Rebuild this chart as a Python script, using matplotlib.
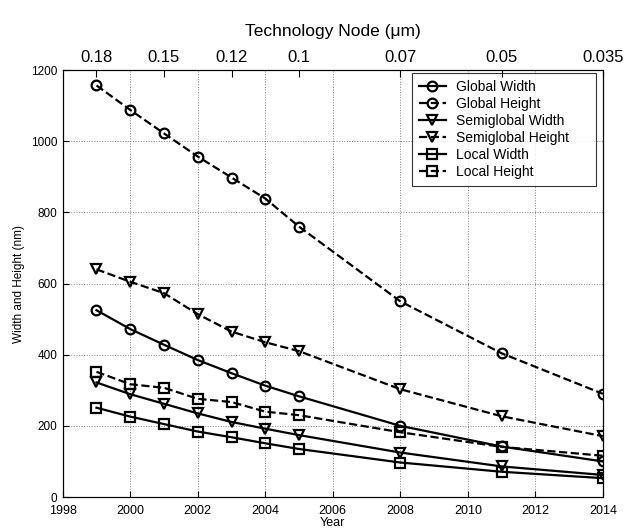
import matplotlib
matplotlib.use("Agg")
import matplotlib.pyplot as plt

plt.rcParams['font.family'] = ['Liberation Sans', 'DejaVu Sans']

# data
years = [1999, 2000, 2001, 2002, 2003, 2004, 2005, 2008, 2011, 2014]
global_width = [525, 472, 428, 385, 348, 313, 283, 200, 142, 100]
global_height = [1157, 1088, 1022, 957, 898, 839, 760, 550, 404, 290]
semi_width = [322, 289, 262, 235, 211, 192, 174, 125, 86, 62]
semi_height = [640, 605, 573, 514, 465, 435, 410, 303, 227, 171]
local_width = [251, 226, 205, 184, 168, 151, 135, 97, 71, 53]
local_height = [352, 317, 307, 276, 267, 240, 230, 182, 141, 116]

node_years = [1999, 2001, 2003, 2005, 2008, 2011, 2014]
node_labels = ['0.18', '0.15', '0.12', '0.1', '0.07', '0.05', '0.035']

fig = plt.figure(figsize=(6.4, 5.31), dpi=100)
ax = fig.add_axes([0.098, 0.064, 0.844, 0.804])

series = [
    (global_width, 'o', '-', 'Global Width'),
    (global_height, 'o', '--', 'Global Height'),
    (semi_width, 'v', '-', 'Semiglobal Width'),
    (semi_height, 'v', '--', 'Semiglobal Height'),
    (local_width, 's', '-', 'Local Width'),
    (local_height, 's', '--', 'Local Height'),
]
for vals, mk, ls, lab in series:
    ax.plot(years, vals, color='black', linestyle=ls, linewidth=1.6,
            marker=mk, markersize=7, markerfacecolor='none',
            markeredgewidth=1.6, markeredgecolor='black', label=lab)

ax.set_xlim(1998, 2014)
ax.set_ylim(0, 1200)
ax.set_xticks(range(1998, 2015, 2))
ax.set_yticks(range(0, 1201, 200))
ax.tick_params(direction='in', length=4)
ax.tick_params(axis='x', labelsize=9, pad=6)
ax.tick_params(axis='y', labelsize=8.5, pad=4)
ax.grid(True, linestyle=':', color='gray', linewidth=0.7)
ax.set_xlabel('Year', fontsize=9, labelpad=0)
ax.set_ylabel('Width and Height (nm)', fontsize=8.5, labelpad=4)

top = ax.twiny()
top.set_xlim(ax.get_xlim())
top.set_xticks(node_years)
top.set_xticklabels(node_labels)
top.tick_params(direction='in', labelsize=12, length=5, pad=4)
top.set_xlabel('Technology Node (\u03bcm)', fontsize=12.5, labelpad=10)

# legend box stretched like the reference one
leg = ax.legend(loc='upper left', bbox_to_anchor=(0.646, 0.0, 0.341, 0.993),
                mode='expand', borderaxespad=0, fontsize=10, frameon=True,
                fancybox=False, edgecolor='black', handlelength=2.0,
                borderpad=0.5, labelspacing=0.22, handletextpad=0.7)
leg.get_frame().set_linewidth(0.8)

fig.savefig('out.png', dpi=100)
